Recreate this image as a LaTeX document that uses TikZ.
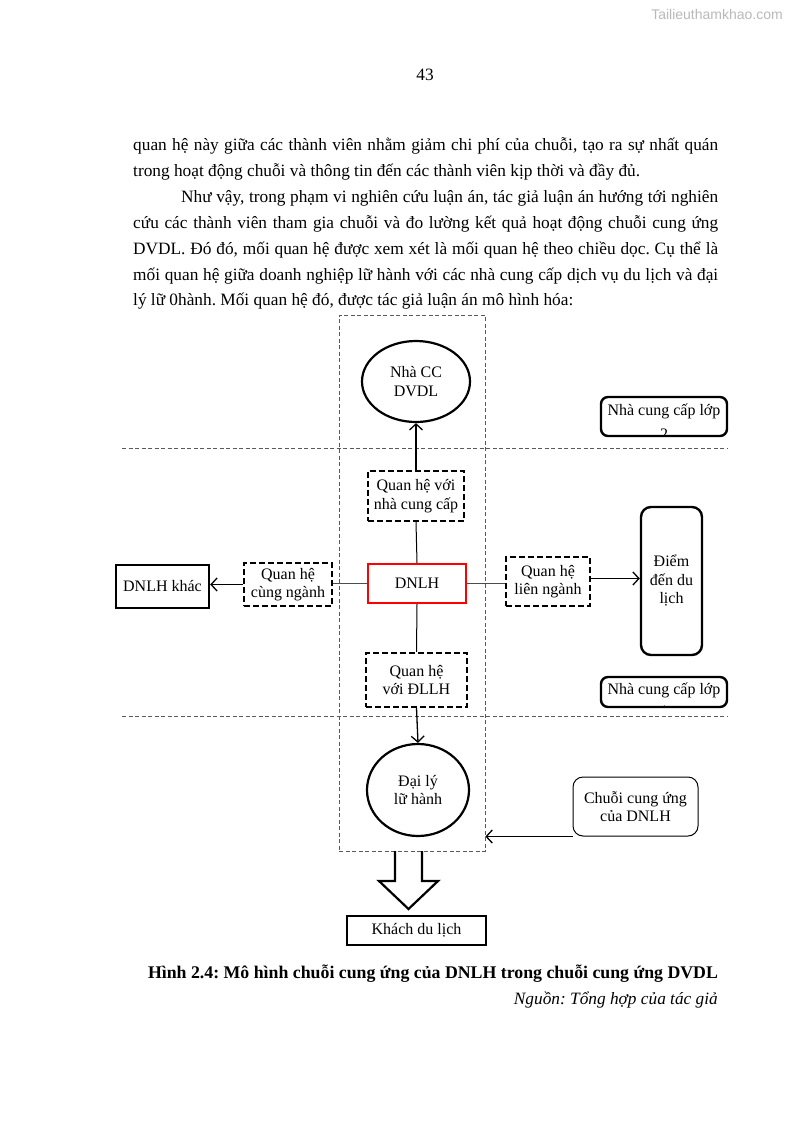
\documentclass[tikz,border=0pt]{standalone}
\usepackage{fontspec}
\setmainfont{Liberation Serif}
\newfontfamily\wmfont{Liberation Sans}
\usetikzlibrary{arrows.meta,shapes.geometric,positioning}
\frenchspacing

\begin{document}
\begin{tikzpicture}[x=1pt,y=-1pt,
  every node/.style={font=\fontsize{16}{18.5}\selectfont},
  bodyline/.style={anchor=base west,inner sep=0pt,font=\fontsize{17.3}{26}\selectfont},
  relbox/.style={draw,line width=2.2pt,dash pattern=on 6pt off 3pt,align=center,inner sep=0pt},
  thickbox/.style={draw,line width=2.4pt,align=center,inner sep=0pt},
  roundbox/.style={draw,line width=2.4pt,rounded corners=7pt,align=center,inner sep=0pt},
  actor/.style={draw,ellipse,line width=2.2pt,align=center,inner sep=0pt},
  framebox/.style={draw,gray!70!black,line width=0.8pt,dash pattern=on 4pt off 2.5pt,inner sep=0pt},
  sepline/.style={gray!70!black,line width=0.8pt,dash pattern=on 4pt off 2.5pt},
  flow/.style={line width=1.3pt,-{Straight Barb[length=6pt,width=13pt]}},
  link/.style={line width=1pt}]
  \path[fill=white,use as bounding box] (0,0) rectangle (795,1123);

  % page head
  \node[font=\wmfont\fontsize{14}{16}\selectfont,text=gray!55] (wm) at (717,15) {Tailieuthamkhao.com};
  \node[font=\fontsize{17.3}{20}\selectfont] (pnum) at (425,75) {43};

  % running text
  \node[bodyline] (l1) at (133,151) {\makebox[585pt][s]{quan hệ này giữa các thành viên nhằm giảm chi phí của chuỗi, tạo ra sự nhất quán}};
  \node[bodyline] (l2) at (133,176.8) {trong hoạt động chuỗi và thông tin đến các thành viên kịp thời và đầy đủ.};
  \node[bodyline] (l3) at (181,202.6) {\makebox[537pt][s]{Như vậy, trong phạm vi nghiên cứu luận án, tác giả luận án hướng tới nghiên}};
  \node[bodyline] (l4) at (133,228.4) {\makebox[585pt][s]{cứu các thành viên tham gia chuỗi và đo lường kết quả hoạt động chuỗi cung ứng}};
  \node[bodyline] (l5) at (133,254.2) {\makebox[585pt][s]{DVDL. Đó đó, mối quan hệ được xem xét là mối quan hệ theo chiều dọc. Cụ thể là}};
  \node[bodyline] (l6) at (133,280) {\makebox[585pt][s]{mối quan hệ giữa doanh nghiệp lữ hành với các nhà cung cấp dịch vụ du lịch và đại}};
  \node[bodyline] (l7) at (133,305.8) {lý lữ 0hành. Mối quan hệ đó, được tác giả luận án mô hình hóa:};

  % levels
  \node[framebox,minimum width=146,minimum height=536] (frame) at (412,583) {};
  \draw[sepline] (122,448) -- (727,448);
  \draw[sepline] (122,716) -- (727,716);

  \node[actor,minimum width=108,minimum height=81] (ncc) at (416,381.5) {Nhà CC\\DVDL};
  \node[relbox,minimum width=96,minimum height=50] (qhncc) at (416,496) {Quan hệ với\\nhà cung cấp};
  \node[draw=red,line width=2pt,minimum width=98,minimum height=39,inner sep=0pt] (dnlh) at (417,583.5) {DNLH};
  \node[relbox,minimum width=88,minimum height=43] (qhcn) at (288,584.5) {Quan hệ\\cùng ngành};
  \node[thickbox,minimum width=93,minimum height=43] (khac) at (162.5,586.5) {DNLH khác};
  \node[relbox,minimum width=84,minimum height=49] (qhln) at (548,581.5) {Quan hệ\\liên ngành};
  \node[roundbox,rounded corners=10pt,minimum width=61,minimum height=148] (diem) at (671.5,581) {Điểm\\đến du\\lịch};
  \node[relbox,minimum width=101,minimum height=54] (qhdl) at (416.5,680) {Quan hệ\\với ĐLLH};
  \node[actor,minimum width=102,minimum height=92] (daily) at (418,790) {Đại lý\\lữ hành};
  \node[draw,line width=1pt,rounded corners=10pt,minimum width=125,minimum height=59,align=center,inner sep=0pt] (chuoi) at (635.5,806.5) {Chuỗi cung ứng\\của DNLH};
  \node[thickbox,minimum width=139,minimum height=29] (khach) at (416.5,930.5) {Khách du lịch};

  % supplier tiers (text cut by the box)
  \begin{scope}
    \clip (601,397) rectangle (727,436);
    \node[align=center,font=\fontsize{16}{24}\selectfont] (lop2txt) at (664,422) {Nhà cung cấp lớp\\2};
  \end{scope}
  \node[roundbox,minimum width=126,minimum height=39] (lop2) at (664,416.5) {};
  \begin{scope}
    \clip (601,677) rectangle (727,707);
    \node[align=center,font=\fontsize{16}{22}\selectfont] (lop1txt) at (664,700) {Nhà cung cấp lớp\\1};
  \end{scope}
  \node[roundbox,minimum width=126,minimum height=30] (lop1) at (664,692) {};

  % connectors
  \draw[flow] (qhncc.north) -- (ncc.south);
  \draw[link] (dnlh.north) -- (qhncc.south);
  \draw[link,gray!60!black,line width=1.5pt] (dnlh.west) -- (dnlh.west -| qhcn.east);
  \draw[flow] (qhcn.west) -- (qhcn.west -| khac.east);
  \draw[link,gray!60!black,line width=1.5pt] (dnlh.east) -- (dnlh.east -| qhln.west);
  \draw[flow] ([yshift=3pt]qhln.east) -- ([yshift=3pt]qhln.east -| diem.west);
  \draw[link] (dnlh.south) -- (qhdl.north);
  \draw[flow] (qhdl.south) -- (daily.north);
  \draw[flow] (chuoi.south west) -- (chuoi.south west -| frame.east);

  % block arrow down to the tourist
  \draw[line width=2.2pt,line join=miter] (395,851) -- (395,881) -- (379,881) -- (408.5,909) -- (438,881) -- (422,881) -- (422,851);

  % caption
  \node[font=\bfseries\fontsize{17.8}{20}\selectfont,anchor=base,inner sep=0pt] (cap) at (433,978) {Hình 2.4: Mô hình chuỗi cung ứng của DNLH trong chuỗi cung ứng DVDL};
  \node[font=\itshape\fontsize{17.3}{20}\selectfont,anchor=base east,inner sep=0pt] (src) at (718,1004) {Nguồn: Tổng hợp của tác giả};
\end{tikzpicture}
\end{document}
